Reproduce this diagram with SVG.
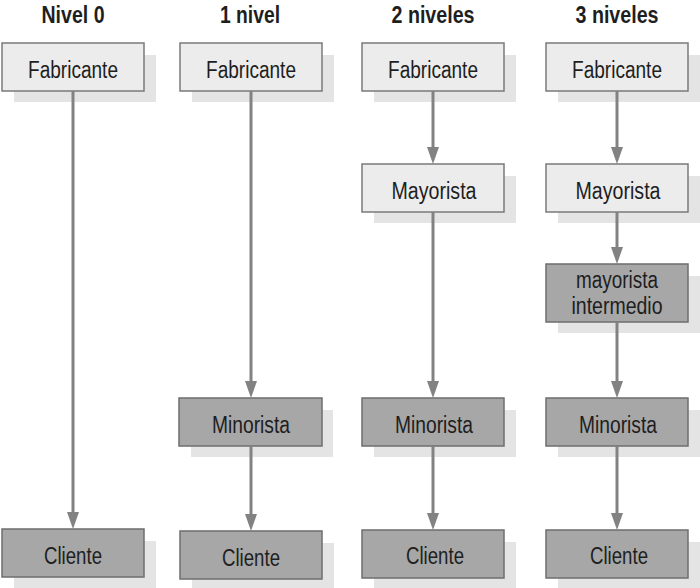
<svg xmlns="http://www.w3.org/2000/svg" width="700" height="588" viewBox="0 0 700 588">
<style>
.sh{fill:#e4e4e4}
.lt{fill:#ececec;stroke:#7a7a7a;stroke-width:1.5}
.dk{fill:#a7a7a7;stroke:#6e6e6e;stroke-width:1.5}
.t{font-family:"Liberation Sans",Arial,sans-serif;font-size:23px;fill:#1e1e1e;text-anchor:middle}
.h{font-family:"Liberation Sans",Arial,sans-serif;font-size:23px;font-weight:bold;fill:#1e1e1e;text-anchor:middle}
.c{stroke:#828282;stroke-width:3;fill:none;marker-end:url(#ah)}
</style>
<defs>
<marker id="ah" markerUnits="userSpaceOnUse" markerWidth="17" markerHeight="12" refX="9" refY="6" orient="auto" viewBox="0 0 17 12">
<path d="M0,0 L17,6 L0,12 Z" fill="#828282"/>
</marker>
</defs>
<g id="titles">
<text class="h" x="73" y="23" textLength="63" lengthAdjust="spacingAndGlyphs">Nivel 0</text>
<text class="h" x="250" y="23" textLength="60" lengthAdjust="spacingAndGlyphs">1 nivel</text>
<text class="h" x="433" y="23" textLength="83" lengthAdjust="spacingAndGlyphs">2 niveles</text>
<text class="h" x="617" y="23" textLength="83" lengthAdjust="spacingAndGlyphs">3 niveles</text>
</g>
<g id="n0-fab"><rect class="sh" x="14" y="55" width="142" height="47"/><rect class="lt" x="2" y="43" width="142" height="48"/><text class="t" x="73" y="78" textLength="90" lengthAdjust="spacingAndGlyphs">Fabricante</text></g>
<g id="n0-cli"><rect class="sh" x="14" y="541" width="142" height="47"/><rect class="dk" x="2" y="529" width="142" height="48"/><text class="t" x="73" y="564" textLength="58" lengthAdjust="spacingAndGlyphs">Cliente</text></g>
<g id="n1-fab"><rect class="sh" x="192" y="55" width="142" height="47"/><rect class="lt" x="180" y="43" width="142" height="48"/><text class="t" x="251" y="78" textLength="90" lengthAdjust="spacingAndGlyphs">Fabricante</text></g>
<g id="n1-min"><rect class="sh" x="191" y="410" width="142" height="47"/><rect class="dk" x="179" y="398" width="143" height="48"/><text class="t" x="251" y="433" textLength="78" lengthAdjust="spacingAndGlyphs">Minorista</text></g>
<g id="n1-cli"><rect class="sh" x="192" y="543" width="142" height="45"/><rect class="dk" x="180" y="531" width="142" height="48"/><text class="t" x="251" y="566" textLength="58" lengthAdjust="spacingAndGlyphs">Cliente</text></g>
<g id="n2-fab"><rect class="sh" x="374" y="55" width="142" height="47"/><rect class="lt" x="362" y="43" width="142" height="48"/><text class="t" x="433" y="78" textLength="90" lengthAdjust="spacingAndGlyphs">Fabricante</text></g>
<g id="n2-may"><rect class="sh" x="374" y="176" width="142" height="47"/><rect class="lt" x="362" y="164" width="142" height="48"/><text class="t" x="434" y="199" textLength="85" lengthAdjust="spacingAndGlyphs">Mayorista</text></g>
<g id="n2-min"><rect class="sh" x="374" y="410" width="142" height="47"/><rect class="dk" x="362" y="398" width="142" height="48"/><text class="t" x="434" y="433" textLength="78" lengthAdjust="spacingAndGlyphs">Minorista</text></g>
<g id="n2-cli"><rect class="sh" x="374" y="542" width="142" height="46"/><rect class="dk" x="362" y="530" width="142" height="48"/><text class="t" x="435" y="564" textLength="58" lengthAdjust="spacingAndGlyphs">Cliente</text></g>
<g id="n3-fab"><rect class="sh" x="558" y="55" width="142" height="47"/><rect class="lt" x="546" y="43" width="142" height="48"/><text class="t" x="617" y="78" textLength="90" lengthAdjust="spacingAndGlyphs">Fabricante</text></g>
<g id="n3-may"><rect class="sh" x="558" y="176" width="142" height="47"/><rect class="lt" x="546" y="164" width="142" height="48"/><text class="t" x="618" y="199" textLength="85" lengthAdjust="spacingAndGlyphs">Mayorista</text></g>
<g id="n3-int"><rect class="sh" x="558" y="276" width="142" height="57"/><rect class="dk" x="546" y="264" width="142" height="58"/><text class="t" x="617" y="288" textLength="82" lengthAdjust="spacingAndGlyphs">mayorista</text><text class="t" x="617" y="314" textLength="91" lengthAdjust="spacingAndGlyphs">intermedio</text></g>
<g id="n3-min"><rect class="sh" x="558" y="410" width="142" height="47"/><rect class="dk" x="546" y="398" width="142" height="48"/><text class="t" x="618" y="433" textLength="78" lengthAdjust="spacingAndGlyphs">Minorista</text></g>
<g id="n3-cli"><rect class="sh" x="558" y="542" width="142" height="46"/><rect class="dk" x="546" y="530" width="142" height="48"/><text class="t" x="619" y="564" textLength="58" lengthAdjust="spacingAndGlyphs">Cliente</text></g>
<g id="connectors">
<line class="c" x1="73" y1="91" x2="73" y2="521"/>
<line class="c" x1="251" y1="91" x2="251" y2="390"/>
<line class="c" x1="251" y1="446" x2="251" y2="523"/>
<line class="c" x1="433" y1="91" x2="433" y2="156"/>
<line class="c" x1="433" y1="212" x2="433" y2="390"/>
<line class="c" x1="433" y1="446" x2="433" y2="522"/>
<line class="c" x1="617" y1="91" x2="617" y2="156"/>
<line class="c" x1="617" y1="212" x2="617" y2="256"/>
<line class="c" x1="617" y1="322" x2="617" y2="390"/>
<line class="c" x1="617" y1="446" x2="617" y2="522"/>
</g>
</svg>
